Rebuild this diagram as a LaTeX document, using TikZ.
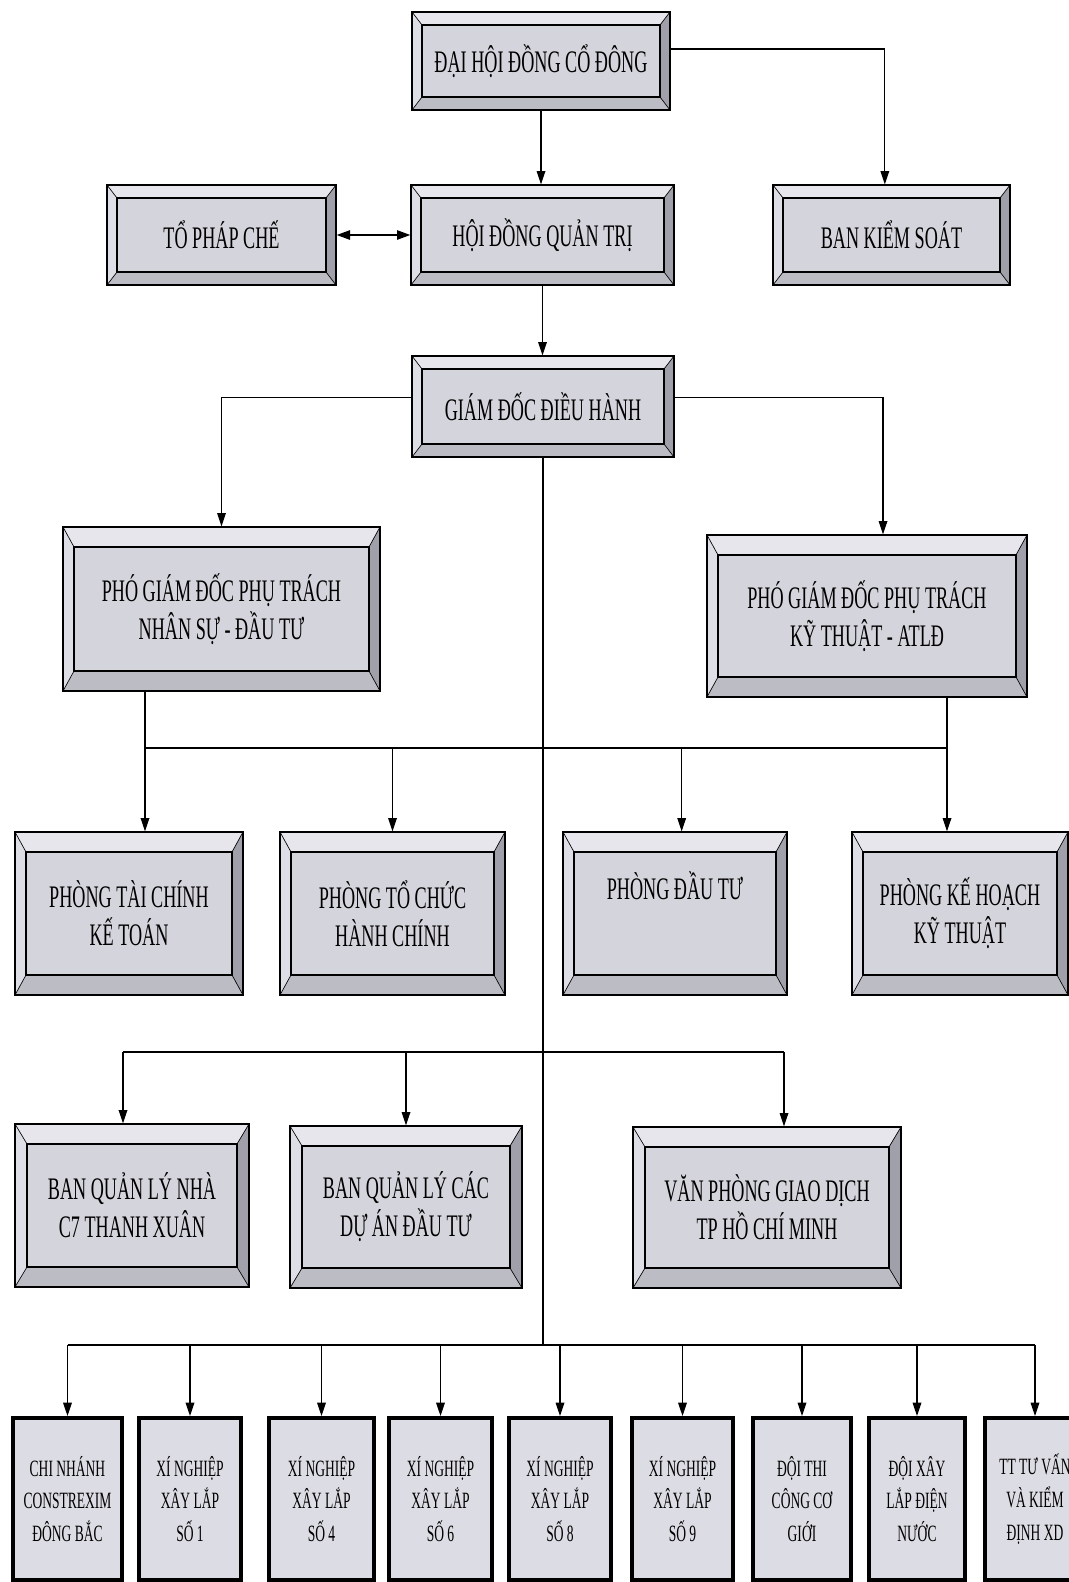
\documentclass[tikz,border=0pt]{standalone}
\usepackage{fontspec}
\setmainfont{Liberation Serif}[FakeStretch=0.58]
\usetikzlibrary{arrows.meta,calc}
\definecolor{facec}{RGB}{212,212,220}
\definecolor{topc}{RGB}{230,230,236}
\definecolor{leftc}{RGB}{222,222,230}
\definecolor{rightc}{RGB}{160,160,170}
\definecolor{botc}{RGB}{188,188,196}
\definecolor{smallc}{RGB}{220,220,228}
\newcommand\bigf{\fontsize{23.5}{28.5}\selectfont}
\newcommand\smallf{\fontsize{17.5}{24.5}\selectfont}
\newcommand\ubox[7][]{\node[#1, minimum width={(#5-#3)*0.75pt}, minimum height={(#6-#4)*0.75pt}] (#2) at ({(#3+#5)/2},{(#4+#6)/2}) {#7};}
\tikzset{
  bev/.style 2 args={draw=black, line width=1pt, fill=facec, align=center, inner sep=0pt, font=\bigf,
    path picture={
      \coordinate (pNW) at (path picture bounding box.north west);
      \coordinate (pNE) at (path picture bounding box.north east);
      \coordinate (pSW) at (path picture bounding box.south west);
      \coordinate (pSE) at (path picture bounding box.south east);
      \coordinate (iNW) at ([shift={(#1,#2)}]pNW);
      \coordinate (iNE) at ([shift={(-#1,#2)}]pNE);
      \coordinate (iSW) at ([shift={(#1,-#2)}]pSW);
      \coordinate (iSE) at ([shift={(-#1,-#2)}]pSE);
      \fill[topc] (pNW) -- (pNE) -- (iNE) -- (iNW) -- cycle;
      \fill[botc] (pSW) -- (pSE) -- (iSE) -- (iSW) -- cycle;
      \fill[leftc] (pNW) -- (pSW) -- (iSW) -- (iNW) -- cycle;
      \fill[rightc] (pNE) -- (pSE) -- (iSE) -- (iNE) -- cycle;
      \draw[line width=0.5pt] (pNW) -- (iNW) (pNE) -- (iNE) (pSW) -- (iSW) (pSE) -- (iSE);
      \draw[line width=1pt] (iNW) rectangle (iSE);
    }},
  sbox/.style={draw=black, line width=3pt, fill=smallc, align=center, inner sep=0pt, font=\smallf},
  arr/.style={-{Triangle[length=10pt,width=6.5pt]}, line width=0.9pt},
  dbl/.style={{Triangle[length=10pt,width=7pt]}-{Triangle[length=10pt,width=7pt]}, line width=1.2pt},
  plain/.style={line width=0.9pt},
  bus/.style={line width=1.5pt}
}
\begin{document}
\begin{tikzpicture}[x=0.75pt,y=-0.75pt]
\useasboundingbox[fill=white] (0,0) rectangle (1069,1582);
% row 1-2
\ubox[bev={10}{13}]{dh}{412}{12}{670}{110}{ĐẠI HỘI ĐỒNG CỔ ĐÔNG}
\ubox[bev={10}{13}]{tpc}{107}{185}{336}{285}{TỔ PHÁP CHẾ}
\ubox[bev={10}{13}]{hd}{411}{185}{674}{285}{HỘI ĐỒNG QUẢN TRỊ}
\ubox[bev={10}{13}]{bks}{773}{185}{1010}{285}{BAN KIỂM SOÁT}
\ubox[bev={10}{13}]{gd}{412}{356}{674}{457}{GIÁM ĐỐC ĐIỀU HÀNH}
% vice directors
\ubox[bev={11}{20}]{ns}{63}{527}{380}{691}{PHÓ GIÁM ĐỐC PHỤ TRÁCH\\NHÂN SỰ - ĐẦU TƯ}
\ubox[bev={11}{20}]{kt}{707}{535}{1027}{697}{PHÓ GIÁM ĐỐC PHỤ TRÁCH\\KỸ THUẬT - ATLĐ}
% departments
\ubox[bev={11}{20}]{tc}{15}{832}{243}{995}{PHÒNG TÀI CHÍNH\\KẾ TOÁN}
\ubox[bev={11}{20}]{tchc}{280}{832}{505}{995}{PHÒNG TỔ CHỨC\\HÀNH CHÍNH}
\ubox[bev={11}{20},text height=15pt,text depth=36pt]{dt}{563}{832}{787}{995}{PHÒNG ĐẦU TƯ}
\ubox[bev={11}{20}]{kh}{852}{832}{1068}{995}{PHÒNG KẾ HOẠCH\\KỸ THUẬT}
% boards
\ubox[bev={12}{20}]{bq1}{15}{1124}{249}{1287}{BAN QUẢN LÝ NHÀ\\C7 THANH XUÂN}
\ubox[bev={12}{20}]{bq2}{290}{1126}{522}{1288}{BAN QUẢN LÝ CÁC\\DỰ ÁN ĐẦU TƯ}
\ubox[bev={12}{20}]{vp}{633}{1127}{901}{1288}{VĂN PHÒNG GIAO DỊCH\\TP HỒ CHÍ MINH}
% bottom units
\ubox[sbox]{b1}{13}{1418}{122}{1580}{CHI NHÁNH\\CONSTREXIM\\ĐÔNG BẮC}
\ubox[sbox]{b2}{139}{1418}{241}{1580}{XÍ NGHIỆP\\XÂY LẮP\\SỐ 1}
\ubox[sbox]{b3}{269}{1418}{374}{1580}{XÍ NGHIỆP\\XÂY LẮP\\SỐ 4}
\ubox[sbox]{b4}{389}{1418}{492}{1580}{XÍ NGHIỆP\\XÂY LẮP\\SỐ 6}
\ubox[sbox]{b5}{509}{1418}{611}{1580}{XÍ NGHIỆP\\XÂY LẮP\\SỐ 8}
\ubox[sbox]{b6}{632}{1418}{733}{1580}{XÍ NGHIỆP\\XÂY LẮP\\SỐ 9}
\ubox[sbox]{b7}{753}{1418}{851}{1580}{ĐỘI THI\\CÔNG CƠ\\GIỚI}
\ubox[sbox]{b8}{869}{1418}{965}{1580}{ĐỘI XÂY\\LẮP ĐIỆN\\NƯỚC}
\ubox[sbox]{b9}{985}{1418}{1085}{1580}{TT TƯ VẤN\\VÀ KIỂM\\ĐỊNH XD}
% connectors top
\draw[arr] (dh.south) -- (dh.south |- hd.north);
\draw[arr] ([yshift=9pt]dh.east) -| ([xshift=-5pt]bks.north);
\draw[dbl] (tpc.east) -- (hd.west);
\draw[arr] (hd.south) -- (hd.south |- gd.north);
\draw[arr] ([yshift=7pt]gd.east) -| ([xshift=12pt]kt.north);
\draw[arr] ([yshift=7pt]gd.west) -| (ns.north);
% main spine
\coordinate (bus5) at (542,1345);
\draw[plain] (gd.south) -- (gd.south |- bus5);
% bus 3
\coordinate (b3L) at (145,748);
\coordinate (b3R) at (947,748);
\draw[bus] (b3L |- ns.south) -- (b3L) -- (b3R) -- (b3R |- kt.south);
\draw[arr] (b3L) -- (b3L |- tc.north);
\draw[arr] (tchc.north |- b3L) -- (tchc.north);
\draw[arr] ([xshift=5pt]dt.north |- b3L) -- ([xshift=5pt]dt.north);
\draw[arr] (b3R) -- (b3R |- kh.north);
% bus 4
\coordinate (b4L) at (123,1052);
\coordinate (b4R) at (784,1052);
\draw[bus] (b4L) -- (b4R);
\draw[arr] (b4L) -- (b4L |- bq1.north);
\draw[arr] (bq2.north |- b4L) -- (bq2.north);
\draw[arr] (b4R) -- (b4R |- vp.north);
% bus 5
\draw[bus] (b1.north |- bus5) -- (b9.north |- bus5);
\foreach \n in {b1,b2,b3,b4,b5,b6,b7,b8,b9}
  \draw[arr] (\n.north |- bus5) -- (\n.north);
\end{tikzpicture}
\end{document}
